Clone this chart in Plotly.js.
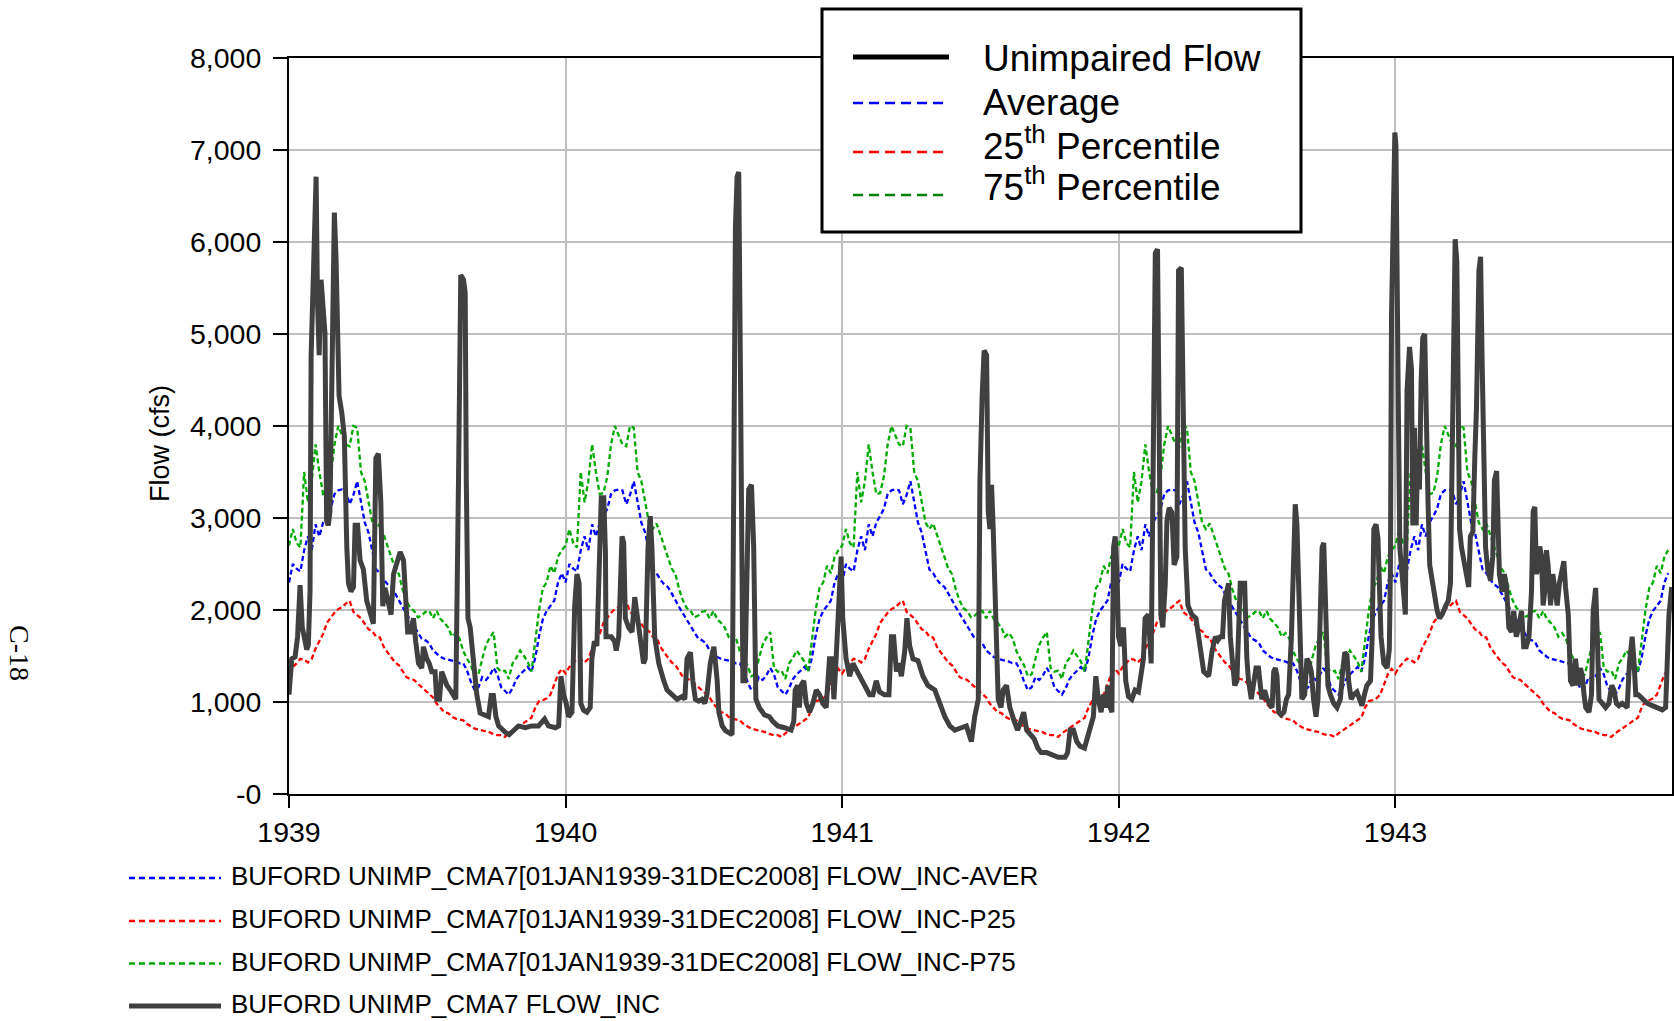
<!DOCTYPE html>
<html>
<head>
<meta charset="utf-8">
<script src="https://cdn.plot.ly/plotly-3.0.1.min.js"></script>
<style>
  html, body { margin: 0; padding: 0; background: #ffffff; }
  #chart { width: 1674px; height: 1021px; }
</style>
</head>
<body>
<div id="chart"></div>
<script>
// ---------------- DATA ----------------
const yearTicks = [1939, 1940, 1941, 1942, 1943];
const yTickVals = [0, 1000, 2000, 3000, 4000, 5000, 6000, 7000, 8000];
const yTickText = ['-0', '1,000', '2,000', '3,000', '4,000', '5,000', '6,000', '7,000', '8,000'];

// Daily statistics (1939-2008) by day of year - repeated every year in the chart
const climDay = [0,5,10,15,20,25,30,35,40,45,50,55,60,65,70,75,80,85,90,95,100,105,110,115,120,125,130,135,140,145,150,155,160,165,170,175,180,185,190,195,200,205,210,215,220,225,230,235,240,245,250,255,260,265,270,275,280,285,290,295,300,305,310,315,320,325,330,335,340,345,350,355,360];
const climAver = [2300,2500,2450,2420,2650,2800,2650,2930,2800,2950,3020,3100,3260,3300,3310,3300,3150,3250,3400,3150,2950,2840,2620,2440,2400,2330,2280,2250,2180,2100,2030,1960,1890,1820,1760,1690,1670,1640,1560,1520,1490,1470,1460,1450,1440,1420,1420,1340,1220,1130,1160,1270,1240,1290,1370,1300,1160,1120,1080,1150,1250,1300,1340,1380,1330,1480,1720,1900,1990,2040,2100,2300,2400];
const climP25 = [1310,1380,1420,1470,1460,1430,1470,1580,1660,1740,1860,1920,1970,2010,2030,2070,2100,1980,1950,1910,1850,1790,1770,1710,1700,1600,1540,1480,1430,1400,1330,1270,1250,1240,1200,1160,1120,1080,1050,980,930,890,880,840,820,810,800,760,730,710,700,690,680,670,650,640,640,620,660,690,720,740,770,800,830,940,1010,1020,1040,1080,1180,1300,1360];
const climP75 = [2700,2880,2730,2680,3500,3170,3400,3800,3500,3260,3270,3450,3800,4000,3900,3800,3780,4000,3980,3500,3400,3150,2950,2880,2940,2820,2700,2560,2450,2390,2220,2100,2020,1990,1920,1940,1980,1990,1910,1990,1900,1860,1810,1710,1750,1690,1550,1470,1400,1280,1300,1470,1620,1700,1760,1370,1330,1340,1250,1420,1480,1560,1500,1440,1330,1700,2000,2240,2300,2480,2400,2580,2650];

// Unimpaired flow (7-day moving average), decimal year / cfs
const flowYear = [
1939.000,1939.010,1939.022,1939.031,1939.040,1939.048,1939.055,1939.064,1939.070,1939.076,
1939.080,1939.088,1939.098,1939.103,1939.109,1939.116,1939.124,1939.130,1939.136,1939.142,
1939.148,1939.157,1939.164,1939.170,1939.176,1939.181,1939.191,1939.200,1939.209,1939.215,
1939.224,1939.233,1939.239,1939.248,1939.257,1939.269,1939.281,1939.293,1939.305,1939.314,
1939.323,1939.332,1939.339,1939.347,1939.359,1939.369,1939.378,1939.390,1939.402,1939.414,
1939.420,1939.429,1939.441,1939.450,1939.458,1939.468,1939.480,1939.486,1939.498,1939.507,
1939.516,1939.528,1939.534,1939.544,1939.552,1939.562,1939.571,1939.583,1939.595,1939.603,
1939.613,1939.621,1939.631,1939.637,1939.641,1939.647,1939.655,1939.667,1939.679,1939.691,
1939.707,1939.721,1939.731,1939.739,1939.748,1939.758,1939.782,1939.796,1939.812,1939.830,
1939.854,1939.878,1939.902,1939.914,1939.924,1939.938,1939.963,1939.975,1939.983,1939.993,
1940.002,1940.011,1940.023,1940.033,1940.041,1940.049,1940.055,1940.065,1940.077,1940.089,
1940.095,1940.104,1940.113,1940.119,1940.129,1940.138,1940.144,1940.146,1940.156,1940.165,
1940.177,1940.183,1940.192,1940.198,1940.204,1940.210,1940.216,1940.228,1940.240,1940.250,
1940.258,1940.270,1940.282,1940.288,1940.298,1940.306,1940.312,1940.322,1940.337,1940.355,
1940.367,1940.385,1940.403,1940.421,1940.431,1940.439,1940.451,1940.460,1940.469,1940.481,
1940.493,1940.503,1940.511,1940.523,1940.536,1940.542,1940.548,1940.554,1940.566,1940.578,
1940.590,1940.602,1940.608,1940.614,1940.620,1940.626,1940.632,1940.641,1940.648,1940.656,
1940.662,1940.672,1940.680,
1940.688,1940.700,1940.719,1940.737,1940.749,1940.767,1940.791,1940.815,1940.825,1940.830,
1940.839,1940.845,1940.851,1940.861,1940.870,1940.882,1940.894,1940.906,1940.918,1940.930,
1940.942,1940.954,1940.963,1940.970,1940.978,1940.987,1940.996,1941.002,1941.014,1941.027,
1941.039,1941.051,1941.063,1941.081,1941.099,1941.111,1941.123,1941.135,1941.153,1941.169,
1941.178,1941.186,1941.196,1941.204,1941.214,1941.226,1941.234,1941.244,1941.256,1941.274,
1941.292,1941.310,1941.335,1941.353,1941.371,1941.389,1941.407,1941.431,1941.449,1941.467,
1941.479,1941.492,1941.498,1941.506,1941.513,1941.522,1941.528,1941.534,1941.540,1941.546,
1941.554,1941.564,1941.574,1941.582,1941.594,1941.606,1941.622,1941.634,1941.646,1941.656,
1941.667,1941.679,1941.694,1941.707,1941.719,1941.739,1941.757,1941.781,1941.806,1941.815,
1941.824,1941.836,1941.848,1941.860,1941.876,1941.890,1941.902,1941.908,1941.917,1941.926,
1941.936,1941.944,1941.953,1941.960,1941.969,1941.975,1941.981,1941.987,1941.993,1941.999,
1942.007,1942.017,1942.025,1942.035,1942.047,1942.059,1942.071,1942.081,1942.089,1942.095,
1942.107,1942.117,1942.123,1942.132,1942.140,1942.146,1942.152,1942.159,1942.168,1942.174,
1942.182,1942.192,1942.200,1942.210,1942.216,1942.226,1942.233,1942.240,1942.250,1942.264,
1942.279,1942.289,1942.307,1942.325,1942.337,1942.349,
1942.358,1942.367,1942.375,1942.382,1942.391,1942.397,1942.403,1942.409,1942.419,1942.427,
1942.433,1942.439,1942.448,1942.455,1942.463,1942.469,1942.479,1942.487,1942.496,1942.505,
1942.511,1942.517,1942.527,1942.536,1942.548,1942.554,1942.560,1942.566,1942.572,1942.578,
1942.587,1942.597,1942.606,1942.614,1942.624,1942.632,1942.638,1942.644,1942.650,1942.656,
1942.662,1942.672,1942.680,1942.689,1942.696,1942.704,1942.713,1942.720,1942.729,1942.735,
1942.741,1942.749,1942.756,1942.765,1942.777,1942.789,1942.801,1942.809,1942.817,1942.825,
1942.831,1942.840,1942.849,1942.861,1942.870,1942.879,1942.888,1942.897,1942.910,1942.916,
1942.922,1942.930,1942.937,1942.942,1942.948,1942.958,1942.970,1942.978,1942.982,1942.986,
1942.992,1942.998,1943.002,1943.006,1943.010,1943.016,1943.022,1943.030,1943.036,1943.042,
1943.051,1943.058,1943.063,1943.069,1943.075,1943.081,1943.087,1943.093,1943.099,1943.106,
1943.112,1943.118,1943.124,1943.133,1943.142,1943.151,1943.159,1943.169,1943.181,1943.191,
1943.199,1943.205,1943.211,1943.216,1943.222,1943.227,1943.232,1943.239,1943.247,1943.256,
1943.265,1943.271,1943.280,1943.287,1943.293,1943.302,1943.308,1943.314,1943.320,1943.326,
1943.334,1943.344,1943.352,1943.358,1943.366,1943.372,1943.376,1943.386,1943.394,1943.402,
1943.410,1943.420,1943.428,1943.437,1943.446,1943.456,1943.464,1943.473,1943.483,1943.492,
1943.498,1943.504,1943.510,1943.516,1943.522,1943.528,1943.534,1943.540,1943.546,1943.552,
1943.561,1943.569,1943.577,1943.585,1943.593,1943.601,1943.609,1943.615,1943.625,1943.633,
1943.642,1943.651,1943.661,1943.669,1943.676,1943.682,1943.688,1943.700,1943.709,1943.715,
1943.724,1943.730,1943.736,1943.748,1943.760,1943.772,1943.782,1943.790,1943.799,1943.808,
1943.820,1943.830,1943.838,1943.846,1943.856,1943.862,1943.869,1943.878,1943.893,1943.911,
1943.929,1943.947,1943.965,1943.977,1943.983,1943.989,1943.999
];
const flowCfs = [
1080,1470,1490,1710,2270,1810,1710,1570,1620,2200,
4770,5740,6710,5350,4770,5590,5300,5010,2970,2920,
3070,4910,6320,5830,4910,4330,4140,3890,2680,2290,
2200,2250,2920,2920,2540,2440,2100,1950,1850,3650,
3700,3170,2040,2240,2100,1950,2390,2490,2630,2540,
2200,1760,1760,1910,1660,1420,1370,1600,1470,1420,
1330,1330,1030,1030,1330,1230,1180,1130,1080,1030,
3460,5640,5590,5450,3410,1910,1810,1420,1080,880,
860,840,1070,1070,840,740,670,645,690,740,
720,740,740,790,815,740,720,740,1280,1080,
985,840,890,2050,2390,2290,985,910,890,940,
1470,1660,1610,2200,3220,3220,2630,1710,1710,1710,
1660,1560,1710,2440,2800,2730,1910,1810,1760,2140,
1950,1710,1420,1470,2680,3020,2680,1710,1420,1230,
1130,1080,1030,1060,1030,1470,1540,1230,1030,1010,
1030,985,1080,1420,1600,1420,1230,890,740,690,
670,645,3410,6170,6710,6760,4620,1230,1230,2680,
3310,3360,2680,
1030,940,860,840,790,740,720,695,790,1130,
1180,940,1180,1230,985,890,985,1130,1080,985,
940,1470,1470,1030,1470,2040,2580,1910,1470,1280,
1420,1350,1280,1180,1080,1080,1230,1110,1080,1080,
1710,1710,1330,1420,1280,1550,1910,1610,1470,1450,
1280,1180,1130,985,840,740,695,720,740,570,
840,1030,3410,4330,4820,4770,3070,2880,3360,2880,
1910,1030,940,1130,1180,940,790,695,790,890,
695,645,600,500,450,450,430,400,400,450,
695,695,570,520,500,645,740,840,1280,1030,
890,1080,940,1180,940,890,2680,2800,2440,1710,
1610,1810,1230,1060,1030,1130,1110,1330,1470,1910,
1950,1420,3150,5880,5920,4360,1950,1810,2290,2970,
3110,3060,2490,2580,5690,5720,4140,2680,2050,1950,
1910,1710,1330,1280,1550,1710,
1670,1710,1710,2100,2240,2290,1710,1470,1180,1230,
1760,2290,2290,2290,1470,1230,1030,1230,1370,1370,
1130,1030,1130,1030,960,940,1330,1370,1280,890,
860,890,1030,1080,1710,2530,3150,2930,2290,1470,
1030,1080,1470,1420,1330,1030,840,1030,1950,2680,
2730,1950,1180,1080,985,940,1030,1320,1540,1510,
1230,1030,1080,1110,1030,960,1080,1180,1230,1710,
2880,2930,2780,2200,1710,1420,1370,1570,2440,5200,
6320,7190,7050,5200,4380,2680,2440,2200,1950,4380,
4860,4620,2920,3980,2920,3750,3310,4480,4960,5000,
3650,3170,2490,2290,2140,1990,1910,1950,2040,2100,
2290,3650,4860,6030,5790,4620,2880,2680,2540,2390,
2250,2800,2850,3650,4180,5690,5840,4620,3170,2680,
2440,2320,2580,3410,3510,2930,2390,2200,2390,2250,
1810,1760,1990,1710,1810,1990,1600,1600,1710,2200,
3070,3120,2390,2490,2690,2580,2050,2200,2650,2490,
2050,2390,2200,2050,2290,2440,2530,2250,1950,1230,
1180,1470,1180,1370,1280,1080,940,890,1080,1990,
2240,1710,1030,985,940,985,1180,1130,985,960,
985,960,940,1420,1710,1470,1080,1080,1030,985,
960,940,915,940,1420,1950,2250
];

// Legend labels
const topLegendLabels = ['Unimpaired Flow', 'Average', '25<sup>th</sup> Percentile', '75<sup>th</sup> Percentile'];
const bottomLegendLabels = [
  'BUFORD UNIMP_CMA7[01JAN1939-31DEC2008] FLOW_INC-AVER',
  'BUFORD UNIMP_CMA7[01JAN1939-31DEC2008] FLOW_INC-P25',
  'BUFORD UNIMP_CMA7[01JAN1939-31DEC2008] FLOW_INC-P75',
  'BUFORD UNIMP_CMA7 FLOW_INC'
];

// ---------------- BUILD ----------------
function climSeries(vals) {
  const xs = [], ys = [];
  yearTicks.forEach(function (yr) {
    for (let i = 0; i < climDay.length; i++) {
      xs.push(yr + climDay[i] / 365);
      ys.push(vals[i]);
    }
  });
  return { x: xs, y: ys };
}

const FONT = 'Liberation Sans, Arial, Helvetica, sans-serif';
const DATA_DASH = '5px,3px';
const cAver = climSeries(climAver), cP25 = climSeries(climP25), cP75 = climSeries(climP75);

const traces = [
  { x: cAver.x, y: cAver.y, type: 'scatter', mode: 'lines', name: 'Average',
    line: { color: '#0000ff', width: 2.3, dash: DATA_DASH } },
  { x: cP25.x, y: cP25.y, type: 'scatter', mode: 'lines', name: '25th Percentile',
    line: { color: '#ff0000', width: 2.3, dash: DATA_DASH } },
  { x: cP75.x, y: cP75.y, type: 'scatter', mode: 'lines', name: '75th Percentile',
    line: { color: '#00aa00', width: 2.3, dash: DATA_DASH } },
  { x: flowYear, y: flowCfs, type: 'scatter', mode: 'lines', name: 'Unimpaired Flow',
    line: { color: '#404040', width: 5 } }
];

// pixel -> paper helpers for decorations (plot area: x 289..1672, y 58..794)
const PL = 289, PR = 1672, PT = 58, PB = 794;
function px(x) { return (x - PL) / (PR - PL); }
function py(y) { return (PB - y) / (PB - PT); }

const shapes = [];
const annotations = [];

// Top legend box
shapes.push({ type: 'rect', xref: 'paper', yref: 'paper', layer: 'above',
  x0: px(822), x1: px(1301), y0: py(232), y1: py(9),
  line: { color: '#000000', width: 3 }, fillcolor: '#ffffff' });
const topLine = [
  { y: 57, color: '#000000', width: 5, dash: 'solid' },
  { y: 103, color: '#0000ff', width: 2.5, dash: '10px,6px' },
  { y: 152, color: '#ff0000', width: 2.5, dash: '10px,6px' },
  { y: 195, color: '#008000', width: 2.5, dash: '10px,6px' }
];
const topTextY = [58, 103, 143, 184];
topLine.forEach(function (s, i) {
  shapes.push({ type: 'line', xref: 'paper', yref: 'paper', layer: 'above',
    x0: px(853), x1: px(949), y0: py(s.y), y1: py(s.y),
    line: { color: s.color, width: s.width, dash: s.dash } });
  annotations.push({ xref: 'paper', yref: 'paper', x: px(981), y: py(topTextY[i]),
    xanchor: 'left', yanchor: 'middle', showarrow: false, text: topLegendLabels[i],
    font: { family: FONT, size: 37, color: '#000000' } });
});

// Bottom legend
const botLine = [
  { color: '#0000ff', width: 2.5, dash: '6px,4px' },
  { color: '#ff0000', width: 2.5, dash: '6px,4px' },
  { color: '#00aa00', width: 2.5, dash: '6px,4px' },
  { color: '#404040', width: 5, dash: 'solid' }
];
const botY = [876, 919, 961.5, 1004];
botLine.forEach(function (s, i) {
  shapes.push({ type: 'line', xref: 'paper', yref: 'paper', layer: 'above',
    x0: px(129), x1: px(221), y0: py(botY[i] + 2), y1: py(botY[i] + 2),
    line: { color: s.color, width: s.width, dash: s.dash } });
  annotations.push({ xref: 'paper', yref: 'paper', x: px(229), y: py(botY[i]),
    xanchor: 'left', yanchor: 'middle', showarrow: false, text: bottomLegendLabels[i],
    font: { family: FONT, size: 26, color: '#000000' } });
});

// Axis title
annotations.push({ xref: 'paper', yref: 'paper', x: px(160), y: py(444),
  xanchor: 'center', yanchor: 'middle', showarrow: false, textangle: -90,
  text: 'Flow (cfs)', font: { family: FONT, size: 27, color: '#000000' } });
// Page number
annotations.push({ xref: 'paper', yref: 'paper', x: px(20), y: py(653),
  xanchor: 'center', yanchor: 'middle', showarrow: false, textangle: 90,
  text: 'C-18', font: { family: 'Liberation Serif, Times New Roman, serif', size: 28, color: '#000000' } });

const layout = {
  width: 1674, height: 1021,
  paper_bgcolor: '#ffffff', plot_bgcolor: '#ffffff',
  margin: { l: PL, r: 1674 - PR, t: PT, b: 1021 - PB, pad: 0 },
  showlegend: false,
  font: { family: FONT, color: '#000000' },
  xaxis: {
    range: [1939, 1944], tickmode: 'array', tickvals: yearTicks,
    ticktext: yearTicks.map(String),
    showgrid: true, gridcolor: '#c0c0c0', gridwidth: 2, zeroline: false,
    showline: true, linecolor: '#000000', linewidth: 2, mirror: true,
    ticks: 'outside', ticklen: 12, tickwidth: 2, tickcolor: '#000000',
    tickfont: { family: FONT, size: 28.5, color: '#000000' }
  },
  yaxis: {
    range: [0, 8000], tickmode: 'array', tickvals: yTickVals, ticktext: yTickText,
    showgrid: true, gridcolor: '#c0c0c0', gridwidth: 2, zeroline: false,
    showline: true, linecolor: '#000000', linewidth: 2, mirror: true,
    ticks: 'outside', ticklen: 14, tickwidth: 2, tickcolor: '#000000',
    ticklabelstandoff: 6,
    tickfont: { family: FONT, size: 28.5, color: '#000000' }
  },
  shapes: shapes,
  annotations: annotations
};

Plotly.newPlot('chart', traces, layout, { displayModeBar: false, staticPlot: true });
</script>
</body>
</html>
